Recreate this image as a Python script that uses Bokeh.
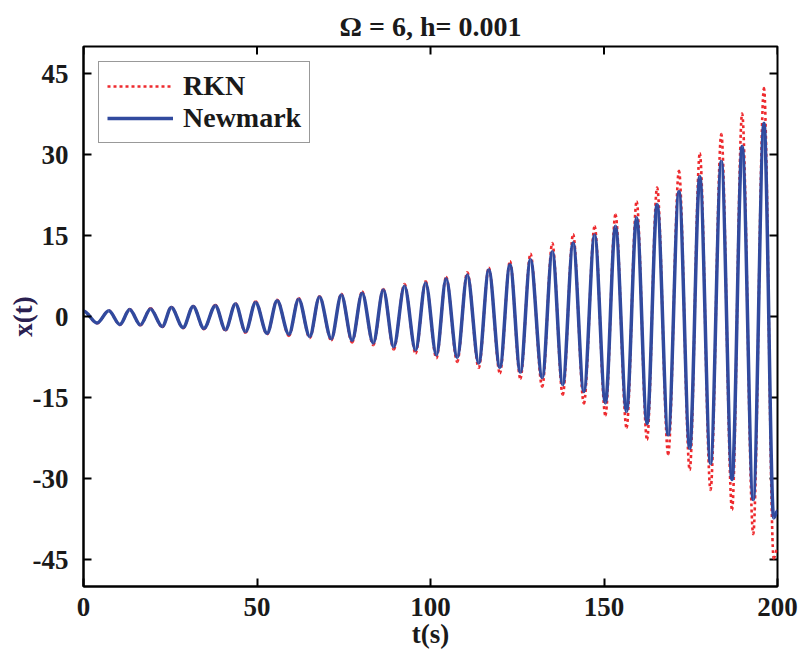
from bokeh.plotting import figure
from bokeh.models import (Range1d, FixedTicker, Legend, LegendItem, ColumnDataSource,
                          CustomJSTickFormatter)
from bokeh.embed import file_html
from bokeh.resources import INLINE

# ---- data (extrema of the two responses) ----
t_start = 0.0
x_start = 1.0
t_end = 200.0
newmark_end = -36.0
rkn_end = -43.0

trough_t = [3.9, 10.5, 16.4, 22.7, 28.7, 34.7, 40.9, 46.7, 52.9, 59.2, 65.2,
            71.4, 77.4, 83.5, 89.4, 95.7, 101.7, 107.7, 113.9, 120.0, 125.9,
            132.2, 138.1, 144.2, 150.4, 156.5, 162.4, 168.5, 174.7, 180.7, 186.9,
            193.0, 198.9]
newmark_trough = [-1.2, -1.5, -1.55, -1.85, -2.05, -2.2, -2.45, -2.8, -3.1, -3.3, -3.7,
                  -4.1, -4.4, -4.9, -5.6, -6.2, -7.1, -7.6, -8.6, -9.4, -10.3,
                  -11.3, -12.6, -13.9, -16.0, -17.6, -19.8, -21.9, -24.4, -27.2, -30.2,
                  -33.9, -37.3]
rkn_trough = [-1.25, -1.55, -1.6, -1.95, -2.15, -2.35, -2.6, -3.0, -3.3, -3.6, -4.0,
              -4.4, -4.8, -5.3, -6.1, -6.8, -7.7, -8.4, -9.5, -10.5, -11.5,
              -13.0, -14.5, -16.1, -18.3, -20.6, -22.8, -25.5, -28.4, -32.1, -35.8,
              -40.3, -44.8]

peak_t = [7.3, 13.3, 19.3, 25.3, 31.6, 38.0, 43.8, 49.6, 55.8, 62.0, 68.0,
          74.3, 80.3, 86.4, 92.5, 98.6, 104.5, 110.6, 116.8, 122.9, 128.8,
          135.1, 141.1, 147.3, 153.3, 159.4, 165.3, 171.6, 177.6, 183.8, 189.8,
          196.1]
newmark_peak = [1.05, 1.3, 1.4, 1.65, 1.85, 2.0, 2.3, 2.6, 2.9, 3.2, 3.6,
                4.0, 4.3, 4.9, 5.6, 6.2, 7.0, 7.7, 8.6, 9.6, 10.5,
                12.0, 13.6, 15.1, 16.7, 18.3, 20.7, 23.1, 25.9, 28.7, 31.5,
                35.8]
rkn_peak = [1.1, 1.35, 1.5, 1.75, 1.95, 2.15, 2.45, 2.8, 3.1, 3.4, 3.75,
            4.2, 4.6, 5.1, 6.0, 6.5, 7.3, 8.2, 9.0, 10.2, 11.6,
            13.6, 15.2, 16.7, 18.9, 21.3, 23.9, 27.0, 30.2, 33.8, 37.6,
            42.3]

x_ticks = [0, 50, 100, 150, 200]
y_ticks = [-45, -30, -15, 0, 15, 30, 45]

TITLE = "\u03a9 = 6, h= 0.001"
FONT = "Liberation Serif"
RED = "#ee2a2e"
BLUE = "#314a9e"
TEXT = "#1a1a1a"
FW, FH, TICK = 694, 540, 8


def segments(peaks_v, troughs_v, end_v):
    pts = [(t_start, x_start)]
    pts += list(zip(trough_t, troughs_v)) + list(zip(peak_t, peaks_v))
    pts = [pts[0]] + sorted(pts[1:])
    pts.append((t_end, end_v))
    d = dict(x0=[], y0=[], x1=[], y1=[], cx0=[], cy0=[], cx1=[], cy1=[])
    for (a, ya), (b, yb) in zip(pts[:-1], pts[1:]):
        dx = b - a
        d["x0"].append(a); d["y0"].append(ya)
        d["x1"].append(b); d["y1"].append(yb)
        d["cx0"].append(a + dx / 3.0); d["cy0"].append(ya)
        d["cx1"].append(b - dx / 3.0); d["cy1"].append(yb)
    return ColumnDataSource(d)


p = figure(frame_width=FW, frame_height=FH, output_backend="svg", toolbar_location=None,
           x_range=Range1d(0, 200), y_range=Range1d(-50, 50),
           min_border_left=83, min_border_right=24, min_border_top=46, min_border_bottom=70)
p.extra_x_ranges = {"px": Range1d(0, FW)}
p.extra_y_ranges = {"py": Range1d(0, FH)}

p.title.text = TITLE
p.title.align = "center"
p.title.vertical_align = "top"
p.title.text_font = FONT
p.title.text_font_style = "bold"
p.title.text_font_size = "28px"
p.title.text_color = TEXT
p.title.standoff = 6

p.xgrid.visible = False
p.ygrid.visible = False
p.outline_line_color = "black"
p.outline_line_width = 2

fmt = CustomJSTickFormatter(code="return tick.toString();")
for ax, ticks in ((p.xaxis[0], x_ticks), (p.yaxis[0], y_ticks)):
    ax.ticker = FixedTicker(ticks=ticks)
    ax.formatter = fmt
    ax.major_tick_in = TICK
    ax.major_tick_out = 0
    ax.minor_tick_line_color = None
    ax.axis_line_color = "black"
    ax.axis_line_width = 2
    ax.major_tick_line_width = 2
    ax.major_label_text_font = FONT
    ax.major_label_text_font_style = "bold"
    ax.major_label_text_font_size = "27px"
    ax.major_label_text_color = TEXT
    ax.axis_label_text_font = FONT
    ax.axis_label_text_font_style = "bold"
    ax.axis_label_text_font_size = "27px"
    ax.axis_label_text_color = TEXT

p.xaxis.axis_label = "t(s)"
p.xaxis.major_label_standoff = 11
p.xaxis.axis_label_standoff = 0
p.yaxis.axis_label = "x(t)"
p.yaxis.major_label_standoff = 15
p.yaxis.axis_label_standoff = -8
p.yaxis.axis_label_text_color = "#2a2050"

# inward ticks on the top and right edges of the box
p.segment(x0=x_ticks, y0=[FH] * len(x_ticks), x1=x_ticks, y1=[FH - TICK] * len(x_ticks),
          y_range_name="py", line_color="black", line_width=2)
p.segment(x0=[FW] * len(y_ticks), y0=y_ticks, x1=[FW - TICK] * len(y_ticks), y1=y_ticks,
          x_range_name="px", line_color="black", line_width=2)

src_rkn = segments(rkn_peak, rkn_trough, rkn_end)
src_nm = segments(newmark_peak, newmark_trough, newmark_end)

r_rkn = p.bezier(x0="x0", y0="y0", x1="x1", y1="y1", cx0="cx0", cy0="cy0", cx1="cx1", cy1="cy1",
                 source=src_rkn, line_color=RED, line_width=2.6, line_dash="3 3")
r_nm = p.bezier(x0="x0", y0="y0", x1="x1", y1="y1", cx0="cx0", cy0="cy0", cx1="cx1", cy1="cy1",
                source=src_nm, line_color=BLUE, line_width=3.5)

legend = Legend(items=[LegendItem(label="RKN", renderers=[r_rkn]),
                       LegendItem(label="Newmark", renderers=[r_nm])],
                location="top_left", margin=15, padding=8, spacing=-5,
                glyph_width=66, glyph_height=26, label_height=26, label_standoff=10,
                label_text_font=FONT, label_text_font_style="bold",
                label_text_font_size="28px", label_text_color=TEXT,
                border_line_color="#333333", border_line_width=1.5,
                background_fill_color="white", background_fill_alpha=1.0)
p.add_layout(legend)

open("out.html", "w").write(file_html(p, INLINE))
